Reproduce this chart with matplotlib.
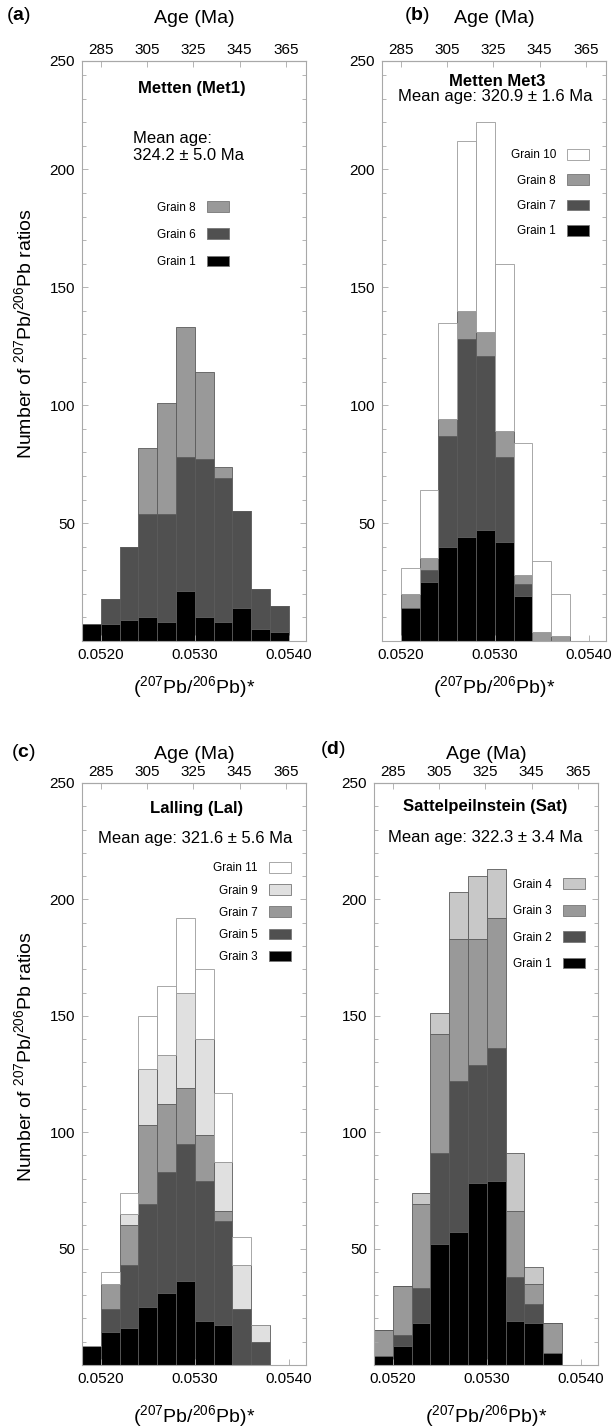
'''
Stacked histograms of 207Pb/206Pb ratios per grain, four samples
'''

import matplotlib.pyplot as plt
from matplotlib.patches import Patch
from matplotlib.ticker import MultipleLocator

plt.rcParams['font.family'] = ['Liberation Sans', 'DejaVu Sans']
plt.rcParams['mathtext.fontset'] = 'custom'
plt.rcParams['mathtext.rm'] = 'Liberation Sans'
plt.rcParams['mathtext.it'] = 'Liberation Sans:italic'
plt.rcParams['mathtext.bf'] = 'Liberation Sans:bold'

# bins of (207Pb/206Pb)*
bin_left = [0.0518, 0.0520, 0.0522, 0.0524, 0.0526, 0.0528,
            0.0530, 0.0532, 0.0534, 0.0536, 0.0538]
bin_width = 0.0002

# age axis calibration (ratio at 285 Ma and at 365 Ma as drawn)
age_ticks = [285, 305, 325, 345, 365]
age_ref = [285, 365]
ratio_ref = [0.05200, 0.05397]

# (a) Metten (Met1), grains listed bottom -> top
met1_grains = ['Grain 1', 'Grain 6', 'Grain 8']
met1_counts = [
    [7, 7, 9, 10, 8, 21, 10, 8, 14, 5, 4],
    [0, 11, 31, 44, 46, 57, 67, 61, 41, 17, 11],
    [0, 0, 0, 28, 47, 55, 37, 5, 0, 0, 0],
]

# (b) Metten Met3
met3_grains = ['Grain 1', 'Grain 7', 'Grain 8', 'Grain 10']
met3_counts = [
    [0, 14, 25, 40, 44, 47, 42, 19, 0, 0, 0],
    [0, 0, 5, 47, 84, 74, 36, 5, 0, 0, 0],
    [0, 6, 5, 7, 12, 10, 11, 4, 4, 2, 0],
    [0, 11, 29, 41, 72, 89, 71, 56, 30, 18, 0],
]

# (c) Lalling (Lal)
lal_grains = ['Grain 3', 'Grain 5', 'Grain 7', 'Grain 9', 'Grain 11']
lal_counts = [
    [8, 14, 16, 25, 31, 36, 19, 17, 0, 0, 0],
    [0, 10, 27, 44, 52, 59, 60, 45, 24, 10, 0],
    [0, 11, 17, 34, 29, 24, 20, 4, 0, 0, 0],
    [0, 0, 5, 24, 21, 41, 41, 21, 19, 7, 0],
    [0, 5, 9, 23, 30, 32, 30, 30, 12, 0, 0],
]

# (d) Sattelpeilnstein (Sat)
sat_grains = ['Grain 1', 'Grain 2', 'Grain 3', 'Grain 4']
sat_counts = [
    [4, 8, 18, 52, 57, 78, 79, 19, 18, 5, 0],
    [0, 5, 15, 39, 65, 51, 57, 19, 8, 0, 0],
    [11, 21, 36, 51, 61, 54, 56, 28, 9, 13, 0],
    [0, 0, 5, 9, 20, 27, 21, 25, 7, 0, 0],
]

BLACK, DARK, GRAY, LIGHT, PALE, WHITE = '#000000', '#505050', '#999999', '#c8c8c8', '#e0e0e0', '#ffffff'
FRAME = '#a8a8a8'


def to_age(x):
    k = (age_ref[1] - age_ref[0]) / (ratio_ref[1] - ratio_ref[0])
    return age_ref[0] + (x - ratio_ref[0]) * k


def to_ratio(a):
    k = (ratio_ref[1] - ratio_ref[0]) / (age_ref[1] - age_ref[0])
    return ratio_ref[0] + (a - age_ref[0]) * k


def draw_panel(ax, grains, counts, colors, ytop, letter, letter_xy, title, mean_text,
               title_xy, mean_xy, mean_ha, leg_xy, leg_spacing, ylabel, top_pad, bot_pad):
    bottom = [0] * len(bin_left)
    handles = []
    for name, vals, col in zip(grains, counts, colors):
        edge = '#9a9a9a' if col == WHITE else '#5a5a5a'
        ax.bar(bin_left, vals, width=bin_width, bottom=bottom, align='edge',
               color=col, edgecolor=edge, linewidth=0.6)
        bottom = [b + v for b, v in zip(bottom, vals)]
        handles.append(Patch(facecolor=col, edgecolor='#9a9a9a' if col == WHITE else '#777777',
                             linewidth=0.6, label=name))

    ax.set_xlim(0.0518, 0.054183)
    ax.set_ylim(0, ytop)
    ax.set_yticks([50, 100, 150, 200, ytop])
    ax.set_yticklabels(['50', '100', '150', '200', '250'])
    ax.yaxis.set_minor_locator(MultipleLocator(10))
    ax.set_xticks([0.0520, 0.0530, 0.0540])
    ax.set_xticklabels(['0.0520', '0.0530', '0.0540'])
    ax.tick_params(which='both', direction='in', color=FRAME, width=0.6,
                   right=True, top=False, labelsize=11, pad=5)
    ax.tick_params(which='major', length=4)
    ax.tick_params(which='minor', length=3)
    for s in ax.spines.values():
        s.set_color(FRAME)
        s.set_linewidth(0.8)

    sec = ax.secondary_xaxis('top', functions=(to_age, to_ratio))
    sec.set_xticks(age_ticks)
    sec.tick_params(direction='in', color=FRAME, width=0.6, length=4,
                    labelsize=11, pad=3)
    sec.spines['top'].set_color(FRAME)
    sec.set_xlabel('Age (Ma)', fontsize=14, labelpad=top_pad)

    ax.set_xlabel(r'($^{207}$Pb/$^{206}$Pb)*', fontsize=14, labelpad=bot_pad)
    if ylabel:
        ax.set_ylabel(r'Number of $^{207}$Pb/$^{206}$Pb ratios', fontsize=14)
        ax.yaxis.set_label_coords(-0.21, 0.53)

    ax.text(letter_xy[0], letter_xy[1], r'($\mathbf{' + letter + '}$)', transform=ax.transAxes,
            fontsize=14, ha='center', va='center')
    ax.text(title_xy[0], title_xy[1], title, transform=ax.transAxes,
            fontsize=12, fontweight='bold', ha='center', va='center')
    ax.text(mean_xy[0], mean_xy[1], mean_text, transform=ax.transAxes,
            fontsize=12, ha=mean_ha, va='center', linespacing=1.15)

    ax.legend(handles[::-1], [h.get_label() for h in handles[::-1]],
              markerfirst=False, frameon=False, loc='upper right',
              bbox_to_anchor=leg_xy, borderaxespad=0, borderpad=0,
              fontsize=8.5, handlelength=1.9, handleheight=1.0,
              handletextpad=0.9, labelspacing=leg_spacing)


fig = plt.figure(figsize=(6.14, 14.26), dpi=100)
ax_a = fig.add_axes([82 / 614, 785 / 1426, 224 / 614, 580 / 1426])
ax_b = fig.add_axes([382 / 614, 785 / 1426, 224 / 614, 580 / 1426])
ax_c = fig.add_axes([82 / 614, 61 / 1426, 224 / 614, 582 / 1426])
ax_d = fig.add_axes([374 / 614, 61 / 1426, 224 / 614, 582 / 1426])

draw_panel(ax_a, met1_grains, met1_counts, [BLACK, DARK, GRAY], 246, 'a', (-0.286, 1.078),
           'Metten (Met1)', 'Mean age:\n324.2 \u00b1 5.0 Ma',
           (0.491, 0.953), (0.228, 0.852), 'left', (0.656, 0.758), 1.25, True, 14, 9)
draw_panel(ax_b, met3_grains, met3_counts, [BLACK, DARK, GRAY, WHITE], 246, 'b', (0.156, 1.078),
           'Metten Met3', 'Mean age: 320.9 \u00b1 1.6 Ma',
           (0.513, 0.964), (0.504, 0.938), 'center', (0.924, 0.848), 1.1, False, 14, 9)
draw_panel(ax_c, lal_grains, lal_counts, [BLACK, DARK, GRAY, PALE, WHITE], 250, 'c', (-0.263, 1.052),
           'Lalling (Lal)', 'Mean age: 321.6 \u00b1 5.6 Ma',
           (0.513, 0.957), (0.504, 0.905), 'center', (0.933, 0.864), 0.83, True, 4, 12)
draw_panel(ax_d, sat_grains, sat_counts, [BLACK, DARK, GRAY, LIGHT], 250, 'd', (-0.183, 1.057),
           'Sattelpeilnstein (Sat)', 'Mean age: 322.3 \u00b1 3.4 Ma',
           (0.496, 0.960), (0.496, 0.907), 'center', (0.942, 0.836), 1.2, False, 4, 12)

fig.savefig('out.png', dpi=100)
